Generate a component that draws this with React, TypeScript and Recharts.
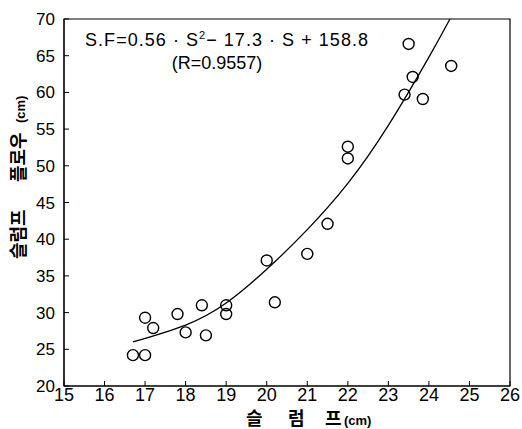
import React from "react";
import {
  ComposedChart,
  Scatter,
  Line,
  XAxis,
  YAxis,
  ReferenceArea,
} from "recharts";

// Measured slump (x) and slump flow (y) pairs, cm
const slumpValues = [16.7, 17.0, 17.0, 17.2, 17.8, 18.0, 18.4, 18.5, 19.0, 19.0, 20.0, 20.2, 21.0, 21.5, 22.0, 22.0, 23.4, 23.5, 23.6, 23.85, 24.55];
const flowValues = [24.2, 24.2, 29.3, 27.9, 29.8, 27.3, 31.0, 26.9, 31.0, 29.8, 37.1, 31.4, 38.0, 42.1, 52.6, 51.0, 59.7, 66.6, 62.1, 59.1, 63.6];

// Fitted curve
const curveX = [16.7, 18.0, 19.0, 20.0, 21.0, 22.0, 23.0, 24.0, 24.52];
const curveY = [26.0, 28.3, 31.3, 35.9, 41.3, 47.6, 55.5, 64.8, 70.0];

const xTicks = [15, 16, 17, 18, 19, 20, 21, 22, 23, 24, 25, 26];
const yTicks = [20, 25, 30, 35, 40, 45, 50, 55, 60, 65, 70];

const equationText = "S.F=0.56 · S";
const equationRest = "− 17.3 · S + 158.8";
const rText = "(R=0.9557)";
const xTitleChars = ["슬", "럼", "프"];
const yTitleWords = ["슬럼프", "플로우"];
const unitText = "(cm)";

const points = slumpValues.map((x, i) => ({ x, y: flowValues[i] }));
const curve = curveX.map((x, i) => ({ x, y: curveY[i] }));

const FONT = "'Liberation Sans', Arial, sans-serif";
const KFONT = "'Noto Sans CJK KR', sans-serif";

const OpenCircle = (props: any) => (
  <circle cx={props.cx} cy={props.cy} r={5.5} fill="none" stroke="#000" strokeWidth={1.4} />
);

export default function App() {
  return (
    <div style={{ position: "absolute", left: 0, top: 0, width: 522, height: 429, background: "#fff" }}>
      <ComposedChart
        width={522}
        height={429}
        margin={{ top: 19, right: 12, bottom: 0, left: 0 }}
      >
        <XAxis
          type="number"
          dataKey="x"
          domain={[15, 26]}
          ticks={xTicks}
          allowDataOverflow
          height={43}
          tickSize={-5}
          tickMargin={7}
          stroke="#000"
          tick={{ fill: "#000", fontSize: 18, fontFamily: FONT }}
        />
        <YAxis
          type="number"
          dataKey="y"
          domain={[20, 70]}
          ticks={yTicks}
          allowDataOverflow
          width={64}
          tickSize={-5}
          tickMargin={14}
          stroke="#000"
          tick={{ fill: "#000", fontSize: 17, fontFamily: FONT }}
        />
        <ReferenceArea x1={15} x2={26} y1={20} y2={70} fill="none" stroke="#000" strokeWidth={1.2} ifOverflow="visible" />
        <Line
          data={curve}
          dataKey="y"
          type="natural"
          dot={false}
          stroke="#000"
          strokeWidth={1.3}
          isAnimationActive={false}
        />
        <Scatter data={points} dataKey="y" shape={OpenCircle} isAnimationActive={false} />
      </ComposedChart>
      <svg
        width={522}
        height={429}
        style={{ position: "absolute", left: 0, top: 0, pointerEvents: "none" }}
      >
        <text x={85} y={46} fontSize={18} fontFamily={FONT} fill="#000" textLength={283} lengthAdjust="spacing">
          {equationText}
          <tspan dy={-7} fontSize={11}>2</tspan>
          <tspan dy={7}>{equationRest}</tspan>
        </text>
        <text x={217} y={69} fontSize={18} fontFamily={FONT} fill="#000" textAnchor="middle">
          {rText}
        </text>
        <text y={425} fontSize={18} fontFamily={KFONT} fontWeight="bold" fill="#000">
          <tspan x={246}>{xTitleChars[0]}</tspan>
          <tspan x={288}>{xTitleChars[1]}</tspan>
          <tspan x={325}>{xTitleChars[2]}</tspan>
          <tspan x={344} fontSize={13} fontFamily={FONT}>{unitText}</tspan>
        </text>
        <text
          y={0}
          transform="translate(25,0) rotate(-90)"
          fontSize={18}
          fontFamily={KFONT}
          fontWeight="bold"
          fill="#000"
        >
          <tspan x={-259}>{yTitleWords[0]}</tspan>
          <tspan x={-182}>{yTitleWords[1]}</tspan>
          <tspan x={-123} fontSize={13} fontFamily={FONT}>{unitText}</tspan>
        </text>
      </svg>
    </div>
  );
}
